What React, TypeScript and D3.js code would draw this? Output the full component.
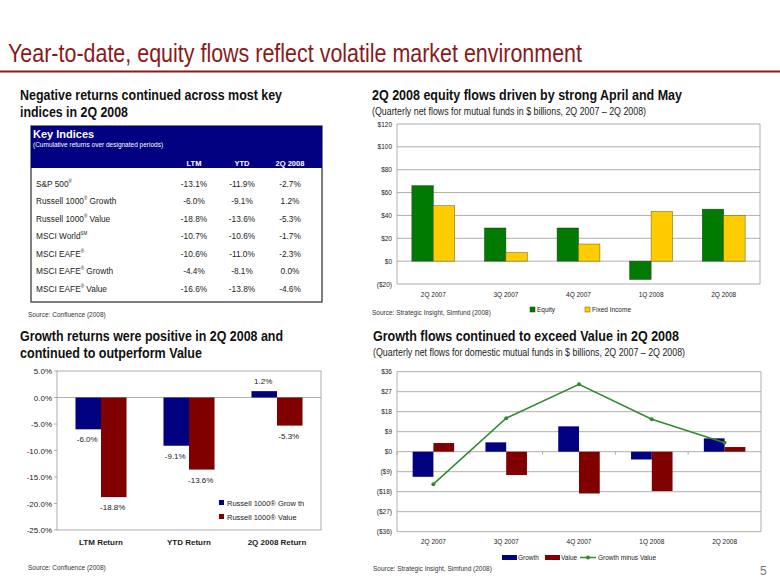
import React from "react";
import * as d3 from "d3";

// ---------- DATA ----------
const tableCols = ["LTM", "YTD", "2Q 2008"];
const indexBase = ["S&P 500", "Russell 1000", "Russell 1000", "MSCI World", "MSCI EAFE", "MSCI EAFE", "MSCI EAFE"];
const indexSup = ["®", "®", "®", "SM", "®", "®", "®"];
const indexSuffix = ["", " Growth", " Value", "", "", " Growth", " Value"];
const ltmVals = ["-13.1%", "-6.0%", "-18.8%", "-10.7%", "-10.6%", "-4.4%", "-16.6%"];
const ytdVals = ["-11.9%", "-9.1%", "-13.6%", "-10.6%", "-11.0%", "-8.1%", "-13.8%"];
const q2Vals = ["-2.7%", "1.2%", "-5.3%", "-1.7%", "-2.3%", "0.0%", "-4.6%"];

const quarters = ["2Q 2007", "3Q 2007", "4Q 2007", "1Q 2008", "2Q 2008"];
const equityFlows = [66, 29, 29, -16, 45.5];
const fixedIncomeFlows = [48.5, 7.5, 15, 43.5, 40];
const flowTicks = [120, 100, 80, 60, 40, 20, 0, -20];

const returnCats = ["LTM Return", "YTD Return", "2Q 2008 Return"];
const growthReturns = [-6.0, -9.1, 1.2];
const valueReturns = [-18.8, -13.6, -5.3];
const returnTicks = [5, 0, -5, -10, -15, -20, -25];

const growthFlows = [-11.3, 4.2, 11.4, -3.5, 6];
const valueFlows = [3.9, -10.5, -18.8, -17.7, 2.1];
const growthMinusValue = [-14.6, 15.1, 30.3, 14.6, 4];
const gvTicks = [36, 27, 18, 9, 0, -9, -18, -27, -36];

// ---------- STYLE ----------
const FONT = "'Liberation Sans', Arial, sans-serif";
const RED = "#8B1A1A";
const NAVY = "#000080";
const MAROON = "#800000";
const GREEN = "#007A00";
const YELLOW = "#FFCC00";
const GRID = "#9a9a9a";

const fmtMoney = (v: number) => (v < 0 ? `($${Math.abs(v)})` : `$${v}`);

function Table() {
  const x0 = 31, x1 = 322, y0 = 126, y1 = 302, hy = 168;
  const colX = d3.scalePoint<string>().domain(tableCols).range([194, 290]);
  const rowY = d3.scalePoint<number>().domain(d3.range(indexBase.length)).range([184, 288.5]);
  const cols = [ltmVals, ytdVals, q2Vals];
  return (
    <g fontFamily={FONT}>
      <rect x={x0} y={y0} width={x1 - x0} height={y1 - y0} fill="#fff" stroke="#555" strokeWidth={1.5} />
      <rect x={x0} y={y0} width={x1 - x0} height={hy - y0} fill={NAVY} />
      <text x={33} y={138} fill="#fff" fontSize={11} fontWeight="bold">Key Indices</text>
      <text x={33} y={147} fill="#fff" fontSize={6.5}>(Cumulative returns over designated periods)</text>
      {tableCols.map((c) => (
        <text key={c} x={colX(c)} y={165.5} fill="#fff" fontSize={7.5} fontWeight="bold" textAnchor="middle">{c}</text>
      ))}
      {indexBase.map((b, i) => (
        <g key={i}>
          <text x={36} y={(rowY(i) as number) + 3} fontSize={8.3} fill="#222">
            {b}
            <tspan fontSize={4.5} dy={-4}>{indexSup[i]}</tspan>
            <tspan dy={4}>{indexSuffix[i]}</tspan>
          </text>
          {cols.map((col, j) => (
            <text key={j} x={colX(tableCols[j])} y={(rowY(i) as number) + 3} fontSize={8.3} fill="#222" textAnchor="middle">{col[i]}</text>
          ))}
        </g>
      ))}
      <text x={28} y={316.5} fontSize={6.5} fill="#333">Source: Confluence (2008)</text>
    </g>
  );
}

function FlowsChart() {
  const left = 397, right = 760;
  const y = d3.scaleLinear().domain([-20, 120]).range([284, 124]);
  const x = d3.scaleBand<string>().domain(quarters).range([left, right]);
  const inner = d3.scaleBand<string>().domain(["eq", "fi"]).range([x.bandwidth() * 0.205, x.bandwidth() * 0.795]);
  return (
    <g fontFamily={FONT}>
      {flowTicks.map((t) => (
        <g key={t}>
          <line x1={left} x2={right} y1={y(t)} y2={y(t)} stroke={GRID} strokeWidth={0.8} />
          <text x={left - 5} y={y(t) + 2.5} fontSize={6.5} textAnchor="end" fill="#222">{fmtMoney(t)}</text>
        </g>
      ))}
      <line x1={left} x2={left} y1={y(120)} y2={y(-20)} stroke={GRID} strokeWidth={0.8} />
      <line x1={right} x2={right} y1={y(120)} y2={y(-20)} stroke={GRID} strokeWidth={0.8} />
      {quarters.map((q, i) => (
        <g key={q}>
          <rect x={(x(q) as number) + (inner("eq") as number)} width={inner.bandwidth()}
            y={y(Math.max(0, equityFlows[i]))} height={Math.abs(y(equityFlows[i]) - y(0))}
            fill={GREEN} stroke="#1f3d1f" strokeWidth={0.5} />
          <rect x={(x(q) as number) + (inner("fi") as number)} width={inner.bandwidth()}
            y={y(Math.max(0, fixedIncomeFlows[i]))} height={Math.abs(y(fixedIncomeFlows[i]) - y(0))}
            fill={YELLOW} stroke="#6b5a10" strokeWidth={0.5} />
          <text x={(x(q) as number) + x.bandwidth() / 2} y={297} fontSize={6.5} textAnchor="middle" fill="#222">{q}</text>
        </g>
      ))}
      <rect x={530} y={307} width={5} height={5} fill={GREEN} stroke="#1f3d1f" strokeWidth={0.5} />
      <text x={537} y={312} fontSize={6.5} fill="#222">Equity</text>
      <rect x={585} y={307} width={5} height={5} fill={YELLOW} stroke="#6b5a10" strokeWidth={0.5} />
      <text x={592} y={312} fontSize={6.5} fill="#222">Fixed Income</text>
      <text x={372} y={315} fontSize={6.5} fill="#333">Source: Strategic Insight, Simfund (2008)</text>
    </g>
  );
}

function ReturnsChart() {
  const left = 57, right = 321;
  const y = d3.scaleLinear().domain([-25, 5]).range([530, 371]);
  const x = d3.scaleBand<string>().domain(returnCats).range([left, right]);
  const inner = d3.scaleBand<string>().domain(["g", "v"]).range([x.bandwidth() * 0.21, x.bandwidth() * 0.79]);
  const fmt = (v: number) => `${v.toFixed(1)}%`;
  const label = (v: number, cx: number) => (
    <text x={cx} y={v >= 0 ? y(v) - 7 : y(v) + 13} fontSize={8} textAnchor="middle" fill="#222">{fmt(v)}</text>
  );
  return (
    <g fontFamily={FONT}>
      <rect x={left} y={y(5)} width={right - left} height={y(-25) - y(5)} fill="none" stroke={GRID} strokeWidth={0.8} />
      <line x1={left} x2={right} y1={y(0)} y2={y(0)} stroke={GRID} strokeWidth={0.8} />
      {returnTicks.map((t) => (
        <g key={t}>
          <line x1={left - 3} x2={left} y1={y(t)} y2={y(t)} stroke={GRID} strokeWidth={0.8} />
          <text x={left - 5} y={y(t) + 3} fontSize={8} textAnchor="end" fill="#222">{`${t.toFixed(1)}%`}</text>
        </g>
      ))}
      {returnCats.map((c, i) => {
        const gx = (x(c) as number) + (inner("g") as number);
        const vx = (x(c) as number) + (inner("v") as number);
        const bw = inner.bandwidth();
        return (
          <g key={c}>
            <rect x={gx} width={bw} y={y(Math.max(0, growthReturns[i]))} height={Math.abs(y(growthReturns[i]) - y(0))} fill={NAVY} />
            <rect x={vx} width={bw} y={y(Math.max(0, valueReturns[i]))} height={Math.abs(y(valueReturns[i]) - y(0))} fill={MAROON} />
            {label(growthReturns[i], gx + bw / 2 - 1)}
            {label(valueReturns[i], vx + bw / 2 - 1)}
            <text x={(x(c) as number) + x.bandwidth() / 2} y={545} fontSize={8} fontWeight="bold" textAnchor="middle" fill="#222">{c}</text>
          </g>
        );
      })}
      <rect x={219} y={500} width={5} height={5} fill={NAVY} />
      <text x={227} y={505.5} fontSize={7.5} fill="#222">Russell 1000® Grow th</text>
      <rect x={219} y={514} width={5} height={5} fill={MAROON} />
      <text x={227} y={519.5} fontSize={7.5} fill="#222">Russell 1000® Value</text>
      <text x={28} y={570} fontSize={6.5} fill="#333">Source: Confluence (2008)</text>
    </g>
  );
}

function GrowthValueChart() {
  const left = 397, right = 761;
  const y = d3.scaleLinear().domain([-36, 36]).range([531.7, 371.7]);
  const x = d3.scaleBand<string>().domain(quarters).range([left, right]);
  const inner = d3.scaleBand<string>().domain(["g", "v"]).range([x.bandwidth() * 0.215, x.bandwidth() * 0.785]);
  const line = d3.line<number>()
    .x((_, i) => (x(quarters[i]) as number) + x.bandwidth() / 2)
    .y((d) => y(d));
  return (
    <g fontFamily={FONT}>
      {gvTicks.map((t) => (
        <g key={t}>
          <line x1={left} x2={right} y1={y(t)} y2={y(t)} stroke={GRID} strokeWidth={0.8} />
          <text x={left - 5} y={y(t) + 2.5} fontSize={6.5} textAnchor="end" fill="#222">{fmtMoney(t)}</text>
        </g>
      ))}
      <line x1={left} x2={left} y1={y(36)} y2={y(-36)} stroke={GRID} strokeWidth={0.8} />
      <line x1={right} x2={right} y1={y(36)} y2={y(-36)} stroke={GRID} strokeWidth={0.8} />
      {quarters.map((q, i) => {
        const bw = inner.bandwidth();
        return (
          <g key={q}>
            <line x1={x(q) as number} x2={x(q) as number} y1={y(0)} y2={y(0) + 3} stroke={GRID} strokeWidth={0.8} />
            <rect x={(x(q) as number) + (inner("g") as number)} width={bw} y={y(Math.max(0, growthFlows[i]))}
              height={Math.abs(y(growthFlows[i]) - y(0))} fill={NAVY} />
            <rect x={(x(q) as number) + (inner("v") as number)} width={bw} y={y(Math.max(0, valueFlows[i]))}
              height={Math.abs(y(valueFlows[i]) - y(0))} fill={MAROON} />
            <text x={(x(q) as number) + x.bandwidth() / 2} y={544} fontSize={6.5} textAnchor="middle" fill="#222">{q}</text>
          </g>
        );
      })}
      <path d={line(growthMinusValue) as string} fill="none" stroke="#2E8B2E" strokeWidth={1.5} />
      {growthMinusValue.map((v, i) => (
        <circle key={i} cx={(x(quarters[i]) as number) + x.bandwidth() / 2} cy={y(v)} r={2} fill="#2E8B2E" />
      ))}
      <rect x={502} y={555} width={15} height={5} fill={NAVY} />
      <text x={518} y={560} fontSize={6.5} fill="#222">Growth</text>
      <rect x={545} y={555} width={15} height={5} fill={MAROON} />
      <text x={561} y={560} fontSize={6.5} fill="#222">Value</text>
      <line x1={580} x2={596} y1={557.5} y2={557.5} stroke="#2E8B2E" strokeWidth={1.5} />
      <circle cx={588} cy={557.5} r={2} fill="#2E8B2E" />
      <text x={598} y={560} fontSize={6.5} fill="#222">Growth minus Value</text>
      <text x={373} y={571} fontSize={6.5} fill="#333">Source: Strategic Insight, Simfund (2008)</text>
    </g>
  );
}

export default function App() {
  return (
    <svg width={780} height={587} style={{ position: "absolute", left: 0, top: 0, background: "#fff" }}>
      <rect width={780} height={587} fill="#fff" />
      <text x={8} y={62} fontFamily={FONT} fontSize={26} fill={RED} textLength={574} lengthAdjust="spacingAndGlyphs">
        Year-to-date, equity flows reflect volatile market environment
      </text>
      <line x1={0} x2={780} y1={71.5} y2={71.5} stroke={RED} strokeWidth={2} />

      <g fontFamily={FONT} fontWeight="bold" fontSize={15.5} fill="#111">
        <text x={20} y={99.5} textLength={262} lengthAdjust="spacingAndGlyphs">Negative returns continued across most key</text>
        <text x={20} y={117} textLength={108} lengthAdjust="spacingAndGlyphs">indices in 2Q 2008</text>
        <text x={372} y={100} textLength={310} lengthAdjust="spacingAndGlyphs">2Q 2008 equity flows driven by strong April and May</text>
        <text x={20} y={341} textLength={263} lengthAdjust="spacingAndGlyphs">Growth returns were positive in 2Q 2008 and</text>
        <text x={20} y={358} textLength={182} lengthAdjust="spacingAndGlyphs">continued to outperform Value</text>
        <text x={373} y={340.5} textLength={306} lengthAdjust="spacingAndGlyphs">Growth flows continued to exceed Value in 2Q 2008</text>
      </g>
      <g fontFamily={FONT} fontSize={10.5} fill="#222">
        <text x={372} y={114.5} textLength={274} lengthAdjust="spacingAndGlyphs">(Quarterly net flows for mutual funds in $ billions, 2Q 2007 – 2Q 2008)</text>
        <text x={373} y={355.5} textLength={312} lengthAdjust="spacingAndGlyphs">(Quarterly net flows for domestic mutual funds in $ billions, 2Q 2007 – 2Q 2008)</text>
      </g>

      <Table />
      <FlowsChart />
      <ReturnsChart />
      <GrowthValueChart />

      <text x={760} y={575} fontFamily={FONT} fontSize={12} fill="#777">5</text>
    </svg>
  );
}
